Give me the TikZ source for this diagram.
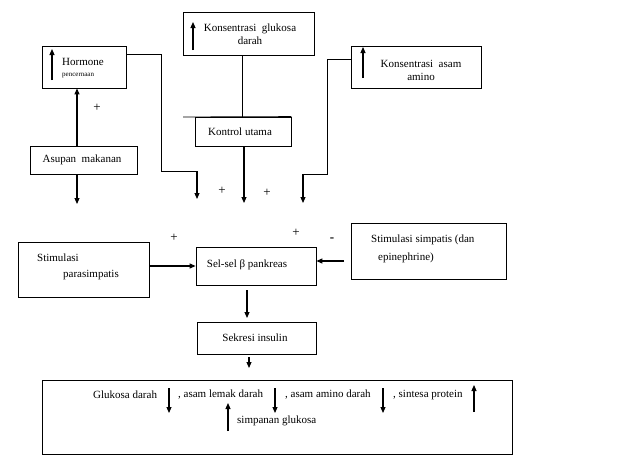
\documentclass[tikz,border=0pt]{standalone}
\usepackage{fontspec}
\setmainfont{Liberation Serif}
\usetikzlibrary{arrows.meta}
\begin{document}
\begin{tikzpicture}[x=1pt, y=-1pt, font=\fontsize{11}{13}\selectfont,
  box/.style={draw, line width=0.8pt, inner sep=0pt},
  txt/.style={inner sep=0pt, align=center},
  sign/.style={inner sep=0pt, font=\fontsize{13}{13}\selectfont},
  arr/.style={line width=1.1pt, -{Triangle[length=6pt, width=5pt]}},
  ln/.style={line width=0.8pt}]
\useasboundingbox (0,0) rectangle (632,458);
% boxes
\node[box, minimum width=131pt, minimum height=43pt] (gluk) at (248.5,33.5){};
\node[box, minimum width=84pt, minimum height=42pt] (horm) at (84,67){};
\node[box, minimum width=130pt, minimum height=42pt] (amino) at (416,67){};
\node[box, minimum width=96pt, minimum height=29pt] (kontrol) at (243,131.5){};
\node[box, minimum width=107pt, minimum height=28pt] (asupan) at (83.5,160){};
\node[box, minimum width=131pt, minimum height=55pt] (para) at (83.5,269.5){};
\node[box, minimum width=120pt, minimum height=38pt] (sel) at (256,266){};
\node[box, minimum width=155pt, minimum height=56pt] (simp) at (428.5,251){};
\node[box, minimum width=119pt, minimum height=32pt] (sekresi) at (256.5,338){};
\node[box, minimum width=470pt, minimum height=74pt] (efek) at (277,417){};
% texts
\node[txt] (tgluk) at (250,34){Konsentrasi\ \ glukosa\\darah};
\node[txt, anchor=west] (thorm) at (62,62){Hormone};
\node[txt, anchor=west, font=\fontsize{7}{8}\selectfont] (thorm2) at (62,76){pencernaan};
\node[txt] (tamino) at (421,70){Konsentrasi\ \ asam\\amino};
\node[txt] (tkontrol) at (240,132){Kontrol utama};
\node[txt] (tasupan) at (82,160){Asupan\ \ makanan};
\node[txt, anchor=west] (tpara1) at (37,258){Stimulasi};
\node[txt, anchor=west] (tpara2) at (63,275){parasimpatis};
\node[txt] (tsel) at (247,265){Sel-sel β pankreas};
\node[txt, anchor=west] (tsimp1) at (371,240){Stimulasi simpatis (dan};
\node[txt, anchor=west] (tsimp2) at (378,258){epinephrine)};
\node[txt] (tsekresi) at (255,338){Sekresi insulin};
\node[txt, anchor=west] (te1) at (93,395){Glukosa\ darah};
\node[txt, anchor=west] (te2) at (178,395){, asam\ lemak\ darah};
\node[txt, anchor=west] (te3) at (285,395){, asam\ amino\ darah};
\node[txt, anchor=west] (te4) at (393,395){, sintesa\ protein};
\node[txt, anchor=west] (te5) at (237,421){simpanan\ glukosa};
% signs
\node[sign] (p1) at (97,108){+};
\node[sign] (p2) at (222,191){+};
\node[sign] (p3) at (267,193){+};
\node[sign] (p4) at (174,238){+};
\node[sign] (p5) at (296,233){+};
\node[sign, font=\fontsize{13}{13}\bfseries] (m1) at (332,240){-};
% small arrows inside boxes
\draw[arr] (193,50) -- (193,22);
\draw[arr] (52,80) -- (52,49);
\draw[arr] (363,78) -- (363,47);
\draw[arr] (169,388) -- (169,413);
\draw[arr] (275,388) -- (275,413);
\draw[arr] (383,388) -- (383,413);
\draw[arr] (474,412) -- (474,385);
\draw[arr] (228,431) -- (228,403);
% connectors
\coordinate (c1) at (77,204);
\coordinate (c2) at (197,199);
\coordinate (c3) at (244,203);
\coordinate (c4) at (303,203);
\draw[ln] (gluk.south -| 242,0) -- (242,117);
\draw[ln] (183,117) -- (kontrol.north east);
\draw[arr] (asupan.north -| 77,0) -- (horm.south -| 77,0);
\draw[arr] (asupan.south -| 77,0) -- (c1);
\draw[ln] (horm.east |- 0,54) -- (161,54) -- (161,171) -- (197,171);
\draw[arr] (197,171) -- (c2);
\draw[arr] (kontrol.south -| c3) -- (c3);
\draw[ln] (amino.west |- 0,59) -- (327,59) -- (327,174) -- (303,174);
\draw[arr] (303,174) -- (c4);
\draw[arr] (para.east |- 0,266) -- (sel.west |- 0,266);
\draw[arr] (344,261) -- (sel.east |- 0,261);
\draw[arr] (sel.south -| 247,0) ++(0,5) -- (247,318);
\draw[arr] (sekresi.south -| 249,0) ++(0,3) -- (249,368);
\end{tikzpicture}
\end{document}
